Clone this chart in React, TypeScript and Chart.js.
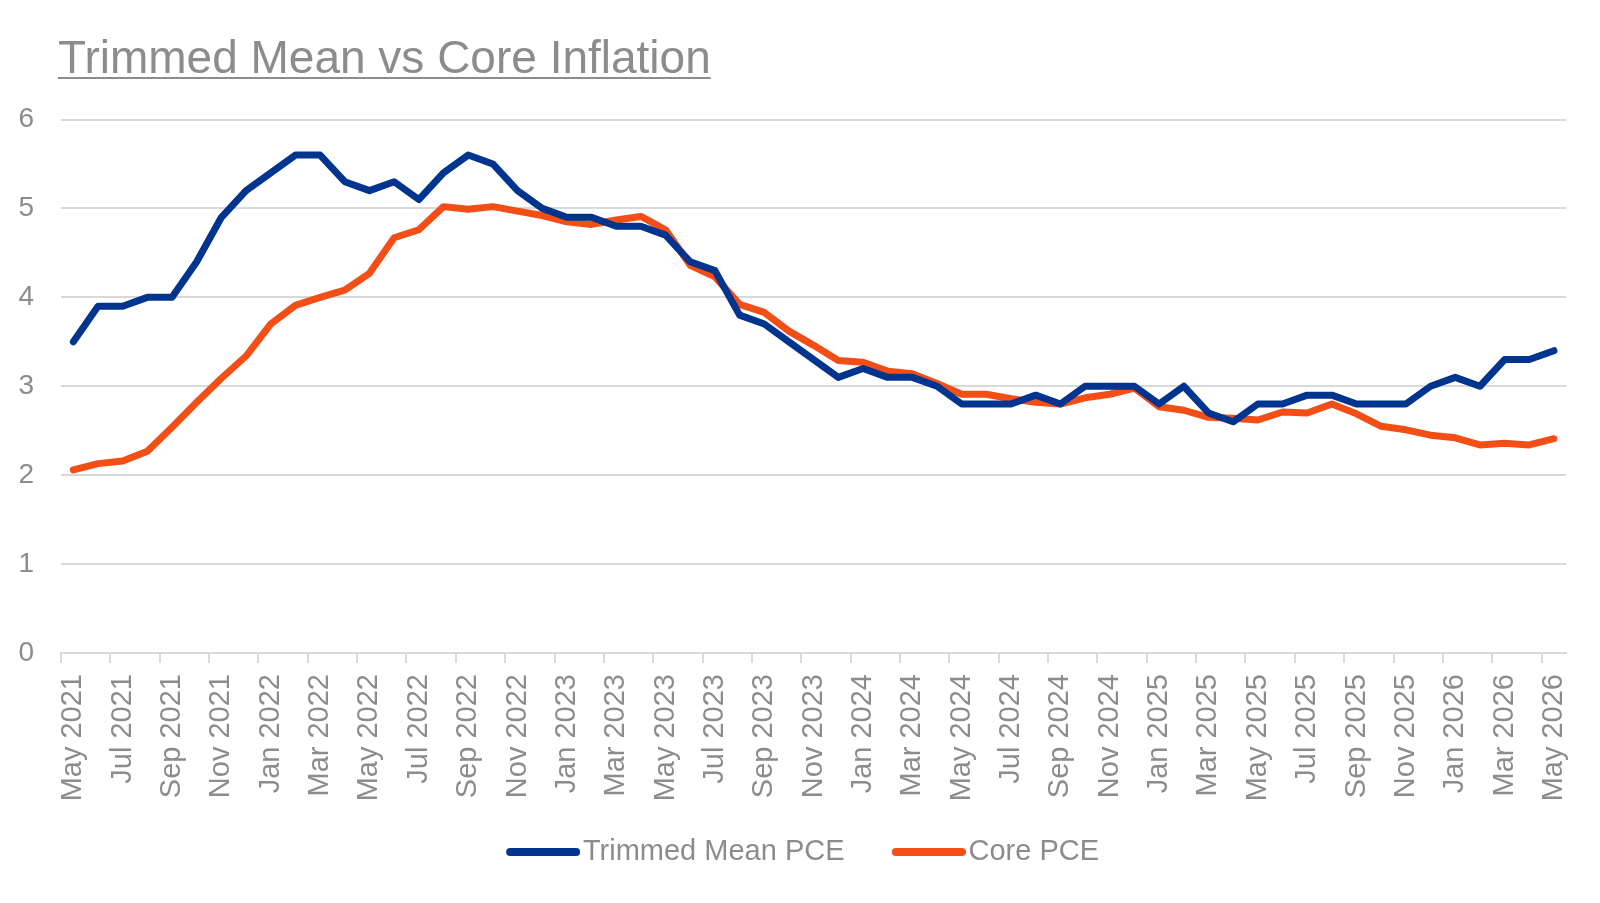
import React, { useEffect, useRef } from 'react';
import { Chart, registerables } from 'chart.js';

Chart.register(...registerables);

const categories = [
  'May 2021', 'Jun 2021', 'Jul 2021', 'Aug 2021', 'Sep 2021', 'Oct 2021', 'Nov 2021', 'Dec 2021',
  'Jan 2022', 'Feb 2022', 'Mar 2022', 'Apr 2022', 'May 2022', 'Jun 2022', 'Jul 2022', 'Aug 2022',
  'Sep 2022', 'Oct 2022', 'Nov 2022', 'Dec 2022',
  'Jan 2023', 'Feb 2023', 'Mar 2023', 'Apr 2023', 'May 2023', 'Jun 2023', 'Jul 2023', 'Aug 2023',
  'Sep 2023', 'Oct 2023', 'Nov 2023', 'Dec 2023',
  'Jan 2024', 'Feb 2024', 'Mar 2024', 'Apr 2024', 'May 2024', 'Jun 2024', 'Jul 2024', 'Aug 2024',
  'Sep 2024', 'Oct 2024', 'Nov 2024', 'Dec 2024',
  'Jan 2025', 'Feb 2025', 'Mar 2025', 'Apr 2025', 'May 2025', 'Jun 2025', 'Jul 2025', 'Aug 2025',
  'Sep 2025', 'Oct 2025', 'Nov 2025', 'Dec 2025',
  'Jan 2026', 'Feb 2026', 'Mar 2026', 'Apr 2026', 'May 2026',
];

const trimmedMeanPCE = [
  3.5, 3.9, 3.9, 4.0, 4.0, 4.4, 4.9, 5.2,
  5.4, 5.6, 5.6, 5.3, 5.2, 5.3, 5.1, 5.4, 5.6, 5.5, 5.2, 5.0,
  4.9, 4.9, 4.8, 4.8, 4.7, 4.4, 4.3, 3.8, 3.7, 3.5, 3.3, 3.1,
  3.2, 3.1, 3.1, 3.0, 2.8, 2.8, 2.8, 2.9, 2.8, 3.0, 3.0, 3.0,
  2.8, 3.0, 2.7, 2.6, 2.8, 2.8, 2.9, 2.9, 2.8, 2.8, 2.8, 3.0,
  3.1, 3.0, 3.3, 3.3, 3.4,
];

const corePCE = [
  2.06, 2.13, 2.16, 2.27, 2.54, 2.82, 3.09, 3.34,
  3.70, 3.91, 4.00, 4.08, 4.27, 4.67, 4.76, 5.02, 4.99, 5.02, 4.97, 4.92,
  4.85, 4.82, 4.87, 4.91, 4.76, 4.36, 4.23, 3.92, 3.83, 3.62, 3.46, 3.29,
  3.27, 3.17, 3.14, 3.03, 2.91, 2.91, 2.86, 2.82, 2.80, 2.87, 2.91, 2.98,
  2.77, 2.73, 2.65, 2.64, 2.62, 2.71, 2.70, 2.80, 2.69, 2.55, 2.51, 2.45,
  2.42, 2.34, 2.36, 2.34, 2.41,
];

const seriesNames = ['Trimmed Mean PCE', 'Core PCE'];
const titleText = 'Trimmed Mean vs Core Inflation';

const BLUE = '#00348F';
const ORANGE = '#F24E16';
const GRAY = '#8C8C8C';
const GRID = '#D9D9D9';
const FONT = '"Liberation Sans", Arial, sans-serif';

// legend key image: blank on the left, a round-capped stroke on the right
function makeLegendLine(color: string): HTMLCanvasElement {
  const c = document.createElement('canvas');
  c.width = 123;
  c.height = 10;
  const g = c.getContext('2d');
  if (g) {
    g.strokeStyle = color;
    g.lineWidth = 8;
    g.lineCap = 'round';
    g.beginPath();
    g.moveTo(53, 5);
    g.lineTo(119, 5);
    g.stroke();
  }
  return c;
}

export default function App() {
  const ref = useRef<HTMLCanvasElement>(null);

  useEffect(() => {
    document.body.style.margin = '0';
    const canvas = ref.current;
    if (!canvas) return;
    const colors = [BLUE, ORANGE];
    const legendImages = colors.map(makeLegendLine);
    const chart = new Chart(canvas, {
      type: 'line',
      data: {
        labels: categories,
        datasets: [
          {
            label: seriesNames[0],
            data: trimmedMeanPCE,
            borderColor: BLUE,
            backgroundColor: BLUE,
            borderWidth: 7,
            pointRadius: 0,
            tension: 0,
            borderCapStyle: 'round',
            borderJoinStyle: 'round',
          },
          {
            label: seriesNames[1],
            data: corePCE,
            borderColor: ORANGE,
            backgroundColor: ORANGE,
            borderWidth: 7,
            pointRadius: 0,
            tension: 0,
            borderCapStyle: 'round',
            borderJoinStyle: 'round',
          },
        ],
      },
      options: {
        responsive: false,
        animation: false,
        devicePixelRatio: 1,
        layout: { padding: { top: 119.5, left: 0, right: 32, bottom: 26.5 } },
        plugins: {
          tooltip: { enabled: false },
          legend: {
            position: 'bottom',
            labels: {
              usePointStyle: true,
              pointStyleWidth: 99.5,
              boxWidth: 99.5,
              boxHeight: 10,
              padding: 10,
              color: GRAY,
              font: { family: FONT, size: 29 },
              generateLabels: (c: any) =>
                c.data.datasets.map((ds: any, i: number) => ({
                  text: ds.label,
                  fillStyle: ds.borderColor,
                  strokeStyle: ds.borderColor,
                  lineWidth: 0,
                  hidden: false,
                  datasetIndex: i,
                  fontColor: GRAY,
                  pointStyle: legendImages[i],
                })),
            },
          },
        },
        scales: {
          x: {
            type: 'category',
            offset: true,
            grid: {
              offset: true,
              drawOnChartArea: false,
              drawTicks: true,
              tickLength: 10,
              lineWidth: 2,
              color: (ctx: any) => (ctx.index % 2 === 0 ? GRID : 'rgba(0,0,0,0)'),
            },
            border: { display: true, color: GRID, width: 2 },
            ticks: {
              autoSkip: false,
              minRotation: 90,
              maxRotation: 90,
              padding: 11,
              color: GRAY,
              font: { family: FONT, size: 29 },
              callback: (_v: any, i: number) => (i % 2 === 0 ? categories[i] : ''),
            },
            afterFit: (s: any) => {
              s.height = 174.5;
            },
          },
          y: {
            min: 0,
            max: 6,
            ticks: {
              stepSize: 1,
              padding: 27,
              color: GRAY,
              font: { family: FONT, size: 28 },
            },
            grid: { color: GRID, lineWidth: 2, drawTicks: false },
            border: { display: false },
            afterFit: (s: any) => {
              s.width = 61;
            },
          },
        },
      },
    } as any);
    return () => chart.destroy();
  }, []);

  return (
    <div style={{ position: 'relative', width: 1600, height: 903, background: '#fff' }}>
      <canvas
        ref={ref}
        width={1600}
        height={903}
        style={{ position: 'absolute', left: 0, top: 0, width: 1600, height: 903 }}
      />
      <div
        style={{
          position: 'absolute',
          left: 58,
          top: 34,
          fontFamily: FONT,
          fontSize: 46,
          lineHeight: '46px',
          color: GRAY,
          textDecoration: 'underline',
          textDecorationThickness: 2,
          textUnderlineOffset: 4,
          whiteSpace: 'nowrap',
        }}
      >
        {titleText}
      </div>
    </div>
  );
}
